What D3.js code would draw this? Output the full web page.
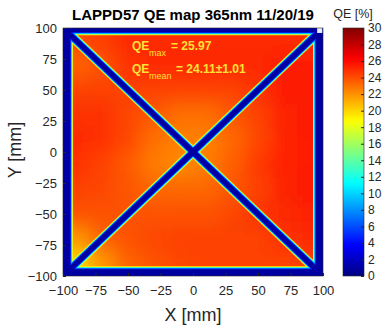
<!DOCTYPE html>
<html>
<head>
<meta charset="utf-8">
<script src="https://cdn.jsdelivr.net/npm/d3@7"></script>
<style>
  body { margin: 0; background: #fff; }
  svg { display: block; font-family: "Liberation Sans", Arial, sans-serif; }
</style>
</head>
<body>
<div id="chart"></div>
<script>
const WIDTH = 383
const HEIGHT = 327

// tick labels
const xTicks = [-100, -75, -50, -25, 0, 25, 50, 75, 100]
const yTicks = [-100, -75, -50, -25, 0, 25, 50, 75, 100]
const cbTicks = [0, 2, 4, 6, 8, 10, 12, 14, 16, 18, 20, 22, 24, 26, 28, 30]

// coarse QE map [%], 20 mm cells
const gridX = [-90, -70, -50, -30, -10, 10, 30, 50, 70, 90]
const gridY = [90, 70, 50, 30, 10, -10, -30, -50, -70, -90]
const qeGrid = [
  [24.0, 24.5, 25.0, 25.0, 25.0, 25.0, 25.0, 25.0, 25.0, 25.0],
  [23.3, 23.8, 24.8, 25.0, 25.0, 25.0, 25.0, 25.0, 25.5, 25.5],
  [24.3, 24.3, 24.3, 24.3, 24.3, 24.3, 24.3, 24.8, 25.5, 25.5],
  [24.8, 24.8, 24.2, 23.6, 23.0, 23.0, 23.6, 24.3, 25.3, 25.5],
  [25.0, 24.8, 24.2, 23.0, 22.5, 22.5, 23.2, 24.2, 25.3, 25.5],
  [24.8, 24.3, 23.6, 22.6, 22.2, 22.6, 23.5, 24.6, 25.3, 25.5],
  [24.3, 24.2, 23.7, 23.2, 23.2, 23.2, 23.7, 24.3, 25.2, 25.5],
  [23.8, 23.8, 23.8, 23.8, 23.8, 23.8, 24.2, 24.7, 25.0, 25.3],
  [21.8, 23.3, 23.8, 24.2, 24.3, 24.3, 24.3, 24.3, 24.8, 25.0],
  [19.8, 21.8, 23.3, 23.8, 24.2, 24.3, 24.3, 24.3, 24.3, 24.5]
]

// active window edges [mm] and the X spacers
const windowX = [-94, 94]
const windowY = [-94, 96]
const spacers = [
  [[-100, 100], [100, -100]],
  [[-100, -100], [100, 100]]
]
// QE levels of the soft rim around window edges and spacers
const rimQE = [19, 11, 5, 1]
const missing = [[97.5, 98]]

const QE_MAX = "25.97"
const QE_MEAN = "24.11\u00b11.01"

// MATLAB jet
function jet(t) {
  const f = v => Math.max(0, Math.min(1, v))
  return d3.rgb(255 * f(1.5 - Math.abs(4 * t - 3)),
                255 * f(1.5 - Math.abs(4 * t - 2)),
                255 * f(1.5 - Math.abs(4 * t - 1))).toString()
}
const color = d3.scaleSequential(jet).domain([0, 30])

const xScale = d3.scaleLinear().domain([-100, 100]).range([63, 323])
const yScale = d3.scaleLinear().domain([-100, 100]).range([276, 28])

const svg = d3.select("#chart").append("svg")
  .attr("width", WIDTH)
  .attr("height", HEIGHT)

const defs = svg.append("defs")
defs.append("clipPath").attr("id", "plotClip")
  .append("rect")
  .attr("x", xScale(-100)).attr("y", yScale(100))
  .attr("width", xScale(100) - xScale(-100))
  .attr("height", yScale(-100) - yScale(100))

defs.append("filter").attr("id", "smooth")
  .attr("filterUnits", "userSpaceOnUse")
  .attr("x", -100).attr("y", -100).attr("width", 600).attr("height", 600)
  .append("feGaussianBlur").attr("stdDeviation", 9)

defs.append("filter").attr("id", "soft")
  .attr("filterUnits", "userSpaceOnUse")
  .attr("x", -100).attr("y", -100).attr("width", 600).attr("height", 600)
  .append("feGaussianBlur").attr("stdDeviation", 0.6)

const plot = svg.append("g").attr("clip-path", "url(#plotClip)")

// background outside the window
plot.append("rect")
  .attr("x", xScale(-100)).attr("y", yScale(100))
  .attr("width", xScale(100) - xScale(-100))
  .attr("height", yScale(-100) - yScale(100))
  .attr("fill", color(0.5))

// smooth QE map, outer cells stretched so the blur does not fade at the edges
const cells = []
qeGrid.forEach((row, j) => row.forEach((v, i) => cells.push({ i, j, v })))
const last = gridX.length - 1
plot.append("g").attr("filter", "url(#smooth)")
  .selectAll("rect")
  .data(cells)
  .enter()
  .append("rect")
  .attr("x", d => xScale(d.i === 0 ? -160 : gridX[d.i] - 10))
  .attr("width", d => xScale(d.i === last ? 160 : gridX[d.i] + 10) - xScale(d.i === 0 ? -160 : gridX[d.i] - 10))
  .attr("y", d => yScale(d.j === 0 ? 160 : gridY[d.j] + 10))
  .attr("height", d => yScale(d.j === last ? -160 : gridY[d.j] - 10) - yScale(d.j === 0 ? 160 : gridY[d.j] + 10))
  .attr("fill", d => color(d.v))

// rims: window frame + spacers, one level at a time
const inset = [2.2, 1.3, 0.4, -0.6]
const spacerWidth = [9.8, 8.2, 6.6, 5.0]
const rim = plot.append("g").attr("filter", "url(#soft)")
rimQE.forEach((q, k) => {
  const d = inset[k]
  const ox0 = xScale(-130), ox1 = xScale(130), oy0 = yScale(130), oy1 = yScale(-130)
  const ix0 = xScale(windowX[0]) + d, ix1 = xScale(windowX[1]) - d
  const iy0 = yScale(windowY[1]) + d, iy1 = yScale(windowY[0]) - d
  const g = rim.append("g")
  g.append("path")
    .attr("d", `M${ox0},${oy0}H${ox1}V${oy1}H${ox0}Z M${ix0},${iy0}H${ix1}V${iy1}H${ix0}Z`)
    .attr("fill-rule", "evenodd")
    .attr("fill", color(q))
  g.selectAll("line")
    .data(spacers)
    .enter()
    .append("line")
    .attr("x1", s => xScale(s[0][0] * 1.2)).attr("y1", s => yScale(s[0][1] * 1.2))
    .attr("x2", s => xScale(s[1][0] * 1.2)).attr("y2", s => yScale(s[1][1] * 1.2))
    .attr("stroke", color(q))
    .attr("stroke-width", spacerWidth[k])
})

plot.selectAll(".missing")
  .data(missing)
  .enter()
  .append("rect")
  .attr("class", "missing")
  .attr("x", d => xScale(d[0] - 2))
  .attr("y", d => yScale(d[1] + 2))
  .attr("width", xScale(4) - xScale(0))
  .attr("height", yScale(0) - yScale(4))
  .attr("fill", "#e8eef8")

// axes
const xAxis = d3.axisBottom(xScale).tickValues(xTicks).tickSizeInner(-3).tickSizeOuter(0).tickPadding(10)
const yAxis = d3.axisLeft(yScale).tickValues(yTicks).tickSizeInner(-3).tickSizeOuter(0).tickPadding(6)

const gx = svg.append("g")
  .attr("transform", `translate(0,${yScale(-100)})`)
  .call(xAxis)
const gy = svg.append("g")
  .attr("transform", `translate(${xScale(-100)},0)`)
  .call(yAxis)
;[gx, gy].forEach(g => {
  g.select(".domain").remove()
  g.selectAll("line").attr("stroke", "#262626")
  g.selectAll("text").attr("font-size", 13).attr("fill", "#262626")
    .attr("font-family", "Liberation Sans, Arial, sans-serif")
})

svg.append("rect")
  .attr("x", xScale(-100)).attr("y", yScale(100))
  .attr("width", xScale(100) - xScale(-100))
  .attr("height", yScale(-100) - yScale(100))
  .attr("fill", "none").attr("stroke", "#262626").attr("stroke-width", 0.6)

// labels
svg.append("text")
  .attr("x", 193).attr("y", 19.5)
  .attr("text-anchor", "middle")
  .attr("font-size", 15).attr("font-weight", "bold").attr("fill", "#000")
  .text("LAPPD57 QE map 365nm 11/20/19")

svg.append("text")
  .attr("x", 193).attr("y", 321)
  .attr("text-anchor", "middle")
  .attr("font-size", 18).attr("fill", "#262626")
  .text("X [mm]")

svg.append("text")
  .attr("transform", "translate(21,150) rotate(-90)")
  .attr("text-anchor", "middle")
  .attr("font-size", 18).attr("fill", "#262626")
  .text("Y [mm]")

// annotation
const ann = svg.append("g").attr("fill", "#ffe135").attr("font-weight", "bold")
ann.append("text").attr("x", 132).attr("y", 50).attr("font-size", 12).text("QE")
ann.append("text").attr("x", 149).attr("y", 56).attr("font-size", 9).attr("font-weight", "normal").text("max")
ann.append("text").attr("x", 171).attr("y", 50).attr("font-size", 12).text("= " + QE_MAX)
ann.append("text").attr("x", 132).attr("y", 73).attr("font-size", 12).text("QE")
ann.append("text").attr("x", 149).attr("y", 79).attr("font-size", 9).attr("font-weight", "normal").text("mean")
ann.append("text").attr("x", 176).attr("y", 73).attr("font-size", 12).text("= " + QE_MEAN)

// colorbar
const cbScale = d3.scaleLinear().domain([0, 30]).range([276, 28])
const grad = defs.append("linearGradient").attr("id", "cbGrad")
  .attr("x1", 0).attr("y1", 1).attr("x2", 0).attr("y2", 0)
grad.selectAll("stop")
  .data(d3.range(0, 30.01, 0.5))
  .enter()
  .append("stop")
  .attr("offset", d => d / 30)
  .attr("stop-color", d => color(d))

svg.append("rect")
  .attr("x", 343).attr("y", cbScale(30))
  .attr("width", 21).attr("height", cbScale(0) - cbScale(30))
  .attr("fill", "url(#cbGrad)")
  .attr("stroke", "#262626").attr("stroke-width", 0.6)

const cbAxis = d3.axisRight(cbScale).tickValues(cbTicks).tickSizeInner(-3).tickSizeOuter(0).tickPadding(4)
const gc = svg.append("g").attr("transform", "translate(364,0)").call(cbAxis)
gc.select(".domain").remove()
gc.selectAll("line").attr("stroke", "#262626")
gc.selectAll("text").attr("font-size", 12).attr("fill", "#262626")
  .attr("font-family", "Liberation Sans, Arial, sans-serif")

svg.append("text")
  .attr("x", 353).attr("y", 18)
  .attr("text-anchor", "middle")
  .attr("font-size", 12.5).attr("fill", "#262626")
  .text("QE [%]")
</script>
</body>
</html>
